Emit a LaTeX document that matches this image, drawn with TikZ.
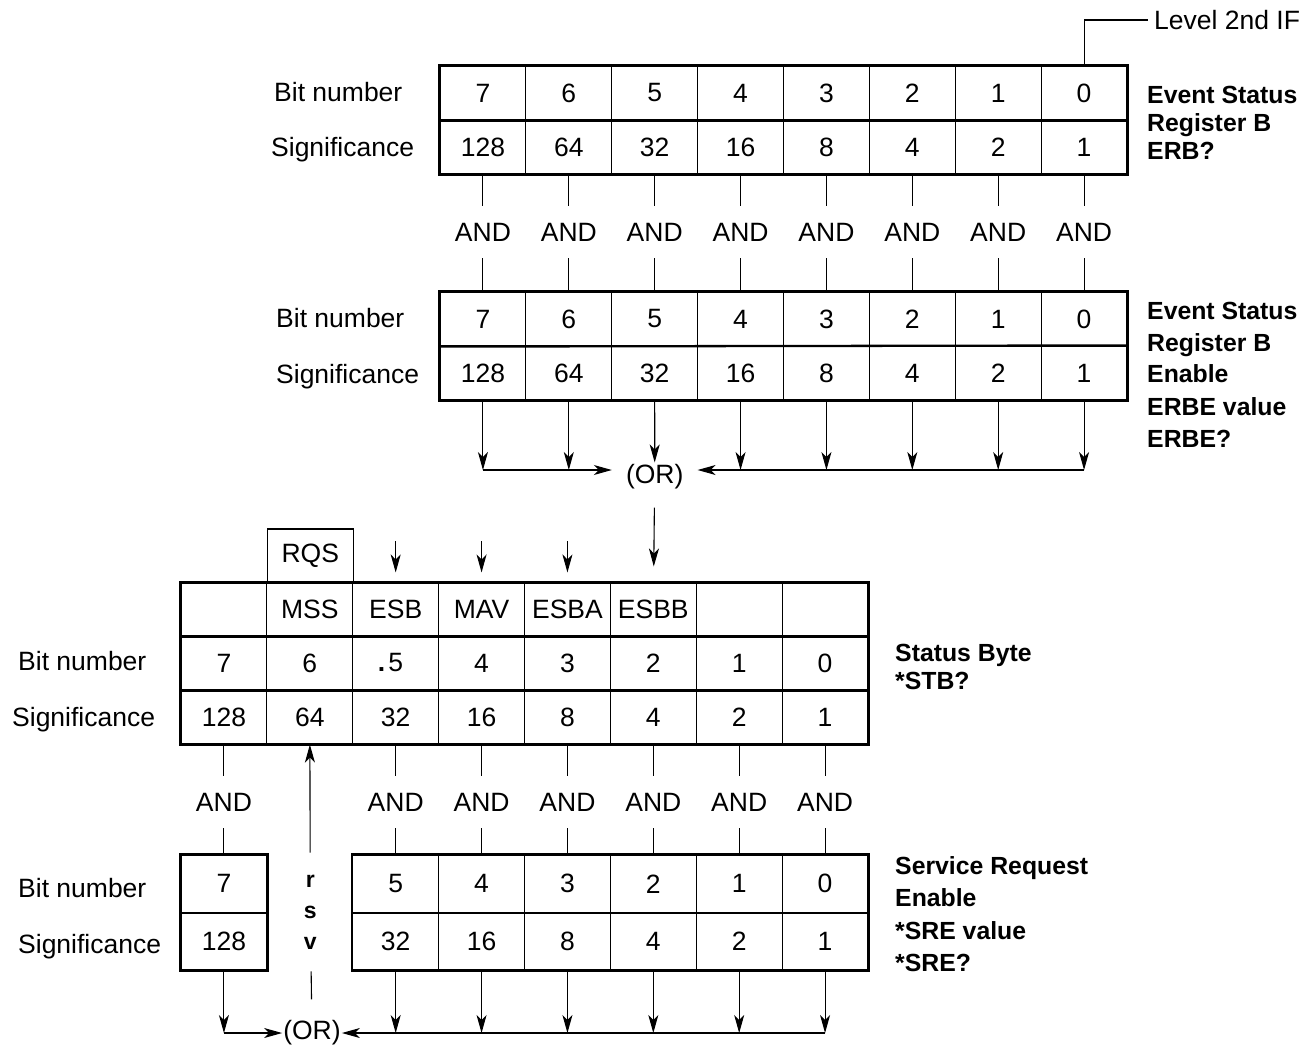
\documentclass[tikz,border=0pt]{standalone}
\usepackage{fontspec}
\setmainfont{Liberation Sans}
\usetikzlibrary{arrows.meta}
\begin{document}
\begin{tikzpicture}[x=1pt,y=-1pt,
  txt/.style={font=\fontsize{26.5}{30}\selectfont},
  cell/.style={draw, line width=1.1pt, minimum width=85.875pt, minimum height=54pt, inner sep=0pt, txt},
  bord/.style={line width=2.3pt},
  andl/.style={txt, inner xsep=2pt, inner ysep=17pt},
  ln/.style={line width=1.1pt},
  arr/.style={line width=1.1pt, -{Stealth[length=18pt,width=10pt,inset=5pt]}},
  hln/.style={line width=2pt},
  lab/.style={txt, anchor=base west, inner sep=0pt},
  blab/.style={font=\fontsize{24.8}{28}\selectfont\bfseries, anchor=base west, inner sep=0pt}
]
\fill[white] (0,0) rectangle (1312,1053);
\useasboundingbox (0,0) rectangle (1312,1053);

% ---------- Register 1 and 2 ----------
\node[txt, inner xsep=14pt, inner ysep=2pt] (or1) at (654.7,477) {(OR)};
\foreach \k/\s in {7/128,6/64,5/32,4/16,3/8,2/4,1/2,0/1}{
  \pgfmathsetmacro\cx{440+(7.5-\k)*85.875}
  \node[cell] (ra\k) at (\cx,93) {\k};
  \node[cell] (rb\k) at (\cx,147) {\s};
  \node[andl] (aa\k) at (\cx,232) {AND};
  \node[cell] (rc\k) at (\cx,319) {\k};
  \node[cell] (rd\k) at (\cx,373) {\s};
  \draw[ln] (rb\k) -- (aa\k);
  \draw[ln] (aa\k) -- (rc\k);
}
\draw[bord] (ra7.north west) rectangle (rb0.south east);
\draw[bord] (ra7.south west) -- (ra0.south east);
\draw[bord] (rc7.north west) rectangle (rd0.south east);
\draw[bord] (rc7.south west) -- (rd0.north east);

\coordinate (hl) at (0,470);
\foreach \k in {7,6,4,3,2,1,0}{
  \draw[arr] (rd\k.south) -- (rd\k.south |- hl);
}
\draw[arr] (rd5) -- (or1);
\draw[hln,arr] (rd7.south |- hl) -- (or1.west |- hl);
\draw[hln,arr] (rd0.south |- hl) -- (or1.east |- hl);

% Level 2nd IF
\node[txt, anchor=west, inner sep=6pt] (lvl) at (1148,20) {Level 2nd IF};
\draw[ln] (ra0.north) |- (lvl.west);

% labels register 1
\node[lab] (l1a) at (274,101) {Bit number};
\node[lab] (l1b) at (271,156) {Significance};
\node[blab] (r1a) at (1147,103) {Event Status};
\node[blab] (r1b) at (1147,131) {Register B};
\node[blab] (r1c) at (1147,159) {ERB?};
% labels register 2
\node[lab] (l2a) at (276,327) {Bit number};
\node[lab] (l2b) at (276,383) {Significance};
\node[blab] (r2a) at (1147,319) {Event Status};
\node[blab] (r2b) at (1147,351) {Register B};
\node[blab] (r2c) at (1147,382) {Enable};
\node[blab] (r2d) at (1147,415) {ERBE value};
\node[blab] (r2e) at (1147,447) {ERBE?};

% ---------- Status byte ----------
\foreach \k/\s/\n/\b in {7/128/{}/7,6/64/MSS/6,5/32/ESB/{\makebox[0pt][r]{\textbf{.}\hspace{3pt}}5},4/16/MAV/4,3/8/ESBA/3,2/4/ESBB/2,1/2/{}/1,0/1/{}/0}{
  \pgfmathsetmacro\cx{181+(7.5-\k)*85.875}
  \node[cell, minimum height=53pt] (sn\k) at (\cx,609.5) {\n};
  \node[cell] (sb\k) at (\cx,663) {\b};
  \node[cell] (ss\k) at (\cx,717) {\s};
}
\draw[bord] (sn7.north west) rectangle (ss0.south east);
\draw[bord] (sn7.south west) -- (sn0.south east);
\draw[bord] (sb7.south west) -- (sb0.south east);
\node[cell] (rqs) at (310.3,556) {RQS};
\draw[arr, shorten <=16pt, shorten >=16pt] (or1) -- (sn2);
\foreach \k in {5,4,3}{
  \coordinate (e\k) at (sn\k.north |- 0,541);
  \draw[arr, shorten >=10pt] (e\k) -- (sn\k);
}
\node[lab] (l3a) at (18,670) {Bit number};
\node[lab] (l3b) at (12,726) {Significance};
\node[blab] (r3a) at (895,661) {Status Byte};
\node[blab] (r3b) at (895,689) {*STB?};

% ---------- Service request enable ----------
\node[txt, inner sep=1pt] (or2) at (312,1033) {(OR)};
\foreach \k/\s in {7/128,5/32,4/16,3/8,2/4,1/2,0/1}{
  \pgfmathsetmacro\cx{181+(7.5-\k)*85.875}
  \node[andl] (ab\k) at (\cx,802) {AND};
  \node[cell, minimum height=57.5pt] (bb\k) at (\cx,883.75) {\k};
  \node[cell, minimum height=57.5pt] (bs\k) at (\cx,941.25) {\s};
  \draw[ln] (ss\k) -- (ab\k);
  \draw[ln] (ab\k) -- (bb\k);
  \draw[arr] (bs\k.south) -- (bs\k.south |- or2.center);
}
\draw[bord] (bb7.north west) rectangle (bs7.south east);
\draw[bord] (bb7.south west) -- (bb7.south east);
\draw[bord] (bb5.north west) rectangle (bs0.south east);
\draw[bord] (bb5.south west) -- (bb0.south east);
\draw[hln,arr] (bs7.south |- or2.center) -- (or2.west);
\draw[hln,arr] (bs0.south |- or2.center) -- (or2.east);

\node[font=\fontsize{23}{31}\selectfont\bfseries, align=center, inner xsep=2pt, inner ysep=22pt] (rsv) at (310.3,912) {r\\s\\v};
\draw[arr] (rsv) -- (ss6);
\draw[ln, shorten >=20pt] (rsv) -- (or2);

\node[lab] (l4a) at (18,897) {Bit number};
\node[lab] (l4b) at (18,953) {Significance};
\node[blab] (r4a) at (895,874) {Service Request};
\node[blab] (r4b) at (895,906) {Enable};
\node[blab] (r4c) at (895,939) {*SRE value};
\node[blab] (r4d) at (895,971) {*SRE?};
\end{tikzpicture}
\end{document}
